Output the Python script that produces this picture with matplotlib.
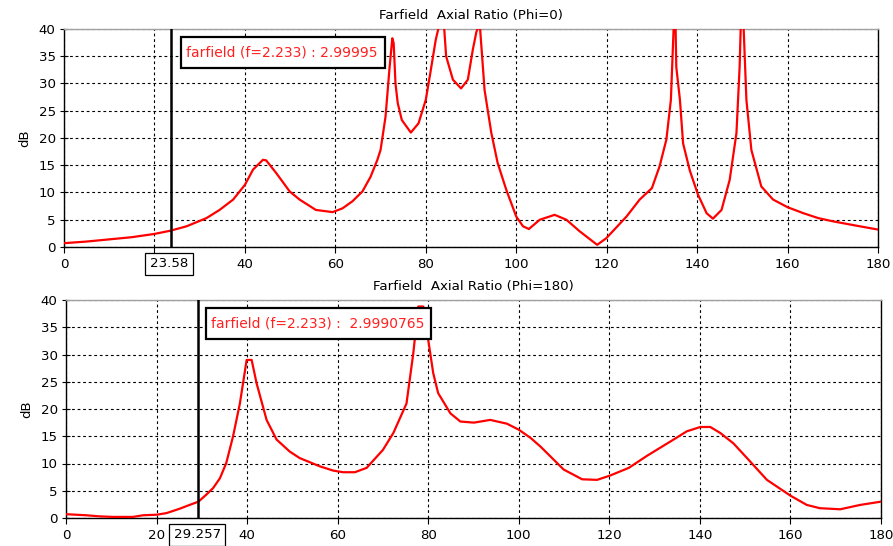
import matplotlib
matplotlib.use("Agg")
import matplotlib.pyplot as plt
import matplotlib.transforms as mtransforms
from matplotlib.patches import Rectangle

# ---- data: Phi = 0 ----
theta0 = [0, 5, 10, 15, 20, 23.58, 27.1, 31.5, 34.4, 37.4, 40, 41.8, 44, 44.7, 46.9, 49.9,
          52.1, 55.7, 59.4, 61.6, 63.8, 66, 67.8, 69.3, 70, 71.1, 72, 72.6, 72.9, 73.3, 73.8,
          74.7, 76.7, 78.4, 80, 81, 82.2, 82.9, 83.5, 84.0, 84.5, 86.0, 87.8, 89.3, 90.4, 91.2,
          91.7, 92.0, 93.0, 94.5, 95.9, 97.8, 100, 101.5, 102.8, 105.2, 108.5, 111.1, 114.0,
          117.9, 119.9, 124.4, 127.3, 130.0, 131.7, 133.2, 134.2, 134.8, 135.0, 135.2, 135.4,
          136.2, 136.9, 138.4, 140.2, 142.1, 143.5, 145.4, 147.2, 148.7, 149.4, 149.7, 149.9,
          150.2, 150.9, 152.0, 154.2, 156.8, 160, 163.5, 166.8, 170.1, 175.3, 180]
ar0 = [0.7, 1.0, 1.4, 1.8, 2.4, 3.0, 3.8, 5.3, 6.8, 8.7, 11.4, 14.2, 16.0, 15.9, 13.6, 10.2,
       8.7, 6.8, 6.4, 7.1, 8.4, 10.2, 12.9, 16.0, 17.8, 23.9, 33.0, 38.3, 37.4, 30.0, 26.4,
       23.3, 21.0, 22.7, 27.0, 31.9, 38.0, 40.5, 42.0, 41.0, 35.0, 30.7, 29.1, 30.7, 36.2, 39.5,
       40.5, 40.2, 28.8, 20.9, 15.4, 10.5, 5.6, 3.8, 3.3, 5.0, 5.9, 5.0, 2.9,
       0.4, 1.6, 5.6, 8.7, 10.8, 14.8, 19.7, 27.0, 40.0, 43.0, 42.0, 33.0,
       27.0, 19.0, 14.0, 9.6, 6.2, 5.2, 6.8, 12.3, 20.9, 33.0, 42.0, 44.0,
       42.0, 27.0, 17.8, 11.1, 8.7, 7.3, 6.2, 5.3, 4.7, 3.9, 3.2]

# ---- data: Phi = 180 ----
theta180 = [0, 4.5, 7.4, 10.4, 14.8, 17, 20, 22.2, 25.1, 27.3, 29.257, 31, 32.5, 34, 35.4,
            36.9, 38.4, 39.9, 41, 42.1, 44.3, 46.5, 49.4, 51.6, 56, 59, 61.2, 63.8, 66.4, 70,
            72.3, 75.2, 76.7, 77.8, 78.9, 80, 81.1, 82.2, 84.9, 87.1, 90.1, 93.7, 97.4, 100,
            102.6, 104.8, 109.9, 114, 117.3, 120.2, 124.3, 128.3, 134.2, 137.1, 140.1, 142.3,
            144.5, 147.4, 150.4, 154.8, 160, 163.6, 166.5, 171, 175.4, 180]
ar180 = [0.7, 0.5, 0.3, 0.2, 0.2, 0.5, 0.6, 0.9, 1.7, 2.4, 3.0, 4.3, 5.5, 7.3, 10.1,
         15.0, 21.0, 29.0, 29.0, 24.7, 18.0, 14.4, 12.2, 11.0, 9.5, 8.7, 8.4, 8.4, 9.2, 12.5,
         15.6, 21.0, 30.2, 38.8, 38.8, 32.7, 26.6, 22.9, 19.2, 17.7, 17.5, 18.0, 17.3, 16.2,
         14.7, 13.1, 8.9, 7.1, 7.0, 7.8, 9.2, 11.4, 14.4, 15.9, 16.7, 16.7,
         15.6, 13.7, 11.0, 7.0, 4.1, 2.4, 1.8, 1.6, 2.4, 3.0]

titles = ["Farfield  Axial Ratio (Phi=0)", "Farfield  Axial Ratio (Phi=180)"]
markers = [23.58, 29.257]
marker_labels = ["23.58", "29.257"]
box_texts = ["farfield (f=2.233) : 2.99995", "farfield (f=2.233) :  2.9990765"]
xticks = [0, 20, 40, 60, 80, 100, 120, 140, 160, 180]
xticklabels_top = ["0", "", "40", "60", "80", "100", "120", "140", "160", "180"]
xticklabels_bottom = ["0", "20", "40", "60", "80", "100", "120", "140", "160", "180"]
yticks = [0, 5, 10, 15, 20, 25, 30, 35, 40]

plt.rcParams['font.family'] = ['DejaVu Sans']
fig = plt.figure(figsize=(8.93, 5.46), dpi=100)

W, H = 893.0, 546.0
rects = [
    (64 / W, 1 - 247 / H, (878 - 64) / W, (247 - 29) / H),
    (66 / W, 1 - 518 / H, (881 - 66) / W, (518 - 300) / H),
]
# annotation boxes in pixels: left, top, right, bottom
boxes = [(181, 37, 385, 68), (206, 308, 431, 339)]
series = [(theta0, ar0), (theta180, ar180)]
ticklabels = [xticklabels_top, xticklabels_bottom]
FS = 9.6

for i in range(2):
    ax = fig.add_axes(rects[i])
    x, y = series[i]
    ax.plot(x, y, color='#ff0000', lw=1.6, zorder=3, clip_on=True)
    ax.set_xlim(0, 180)
    ax.set_ylim(0, 40)
    ax.set_xticks(xticks)
    ax.set_xticklabels(ticklabels[i])
    ax.set_yticks(yticks)
    ax.grid(True, color='black', linestyle=(0, (2.5, 2.5)), linewidth=0.8)
    ax.tick_params(axis='both', labelsize=FS, colors='black', width=0.8)
    ax.tick_params(axis='y', direction='inout', length=6, pad=3)
    ax.tick_params(axis='x', direction='out', length=4, pad=4)
    for s in ['left', 'bottom', 'right']:
        ax.spines[s].set_color('black')
        ax.spines[s].set_linewidth(1.0)
    ax.spines['top'].set_color('#a0a0a0')
    ax.spines['top'].set_linewidth(1.0)
    ax.set_ylabel('dB', fontsize=FS, labelpad=5)
    ax.set_title(titles[i], fontsize=FS, pad=7)

    # marker line
    ax.axvline(markers[i], color='black', lw=1.8, zorder=4)
    # marker value box below axis
    trans = mtransforms.blended_transform_factory(ax.transData, ax.transAxes)
    ax.text(markers[i] - 0.3, -17.0 / 218, marker_labels[i], transform=trans, ha='center', va='center',
            fontsize=FS, clip_on=False, zorder=10,
            bbox=dict(boxstyle='square,pad=0.35', facecolor='white', edgecolor='black', lw=0.9))
    # annotation box
    l, t, r, b = boxes[i]
    fig.patches.append(Rectangle((l / W, 1 - b / H), (r - l) / W, (b - t) / H,
                                 transform=fig.transFigure, facecolor='white',
                                 edgecolor='black', lw=1.6, zorder=9))
    fig.text((l + 5) / W, 1 - (t + b) / 2 / H, box_texts[i], ha='left', va='center',
             color='#ff2020', fontsize=10, zorder=10)

fig.savefig('out.png', dpi=100, facecolor='white')
